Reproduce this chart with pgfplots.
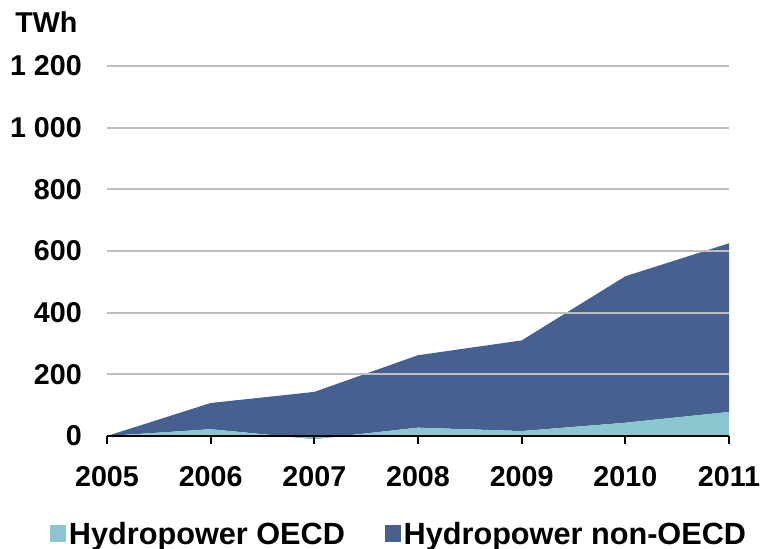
\documentclass[border=0pt]{standalone}
\usepackage{pgfplots}
\pgfplotsset{compat=1.18}
\usepackage{fontspec}
\setmainfont{Liberation Sans}
\definecolor{oecd}{HTML}{8CC6D0}
\definecolor{nonoecd}{HTML}{46618F}
\definecolor{gridgray}{HTML}{BFBFBF}
\begin{document}
\begin{tikzpicture}
\begin{axis}[
  at={(0,0)}, anchor=south west,
  scale only axis, width=466.5pt, height=277.5pt,
  xmin=2005, xmax=2011, ymin=0, ymax=1200,
  clip=false,
  set layers, axis on top,
  stack plots=y,
  axis x line*=bottom, axis y line*=left,
  y axis line style={draw=none},
  x axis line style={line width=2pt, black, -},
  xtick={2005,2006,2007,2008,2009,2010,2011},
  xticklabels={2005,2006,2007,2008,2009,2010,2011},
  ytick={0,200,400,600,800,1000,1200},
  yticklabels={0,200,400,600,800,1~000,1~200},
  tick align=outside,
  major tick length=6pt,
  xtick style={black, line width=1.5pt},
  ytick style={draw=none},
  ymajorgrids,
  grid style={gridgray, line width=1.5pt, /pgfplots/on layer=axis background},
  tick label style={font=\fontsize{21.5}{24}\selectfont\bfseries},
  yticklabel style={anchor=east, inner sep=0pt, xshift=-12.75pt},
  xticklabel style={anchor=north, inner sep=0pt, yshift=-17pt},
  legend columns=2,
  legend style={draw=none, fill=none, at={(-0.0916,-0.265)}, anchor=west,
    font=\fontsize{23}{26}\selectfont\bfseries, inner sep=0pt,
    /tikz/every even column/.append style={column sep=28pt}},
  legend image code/.code={\fill[#1, draw=none] (0pt,-6pt) rectangle (12pt,6.75pt);},
]
\addplot[fill=oecd, draw=none] coordinates {
  (2005,0) (2006,22) (2007,-10) (2008,27) (2009,16) (2010,43) (2011,78)
} \closedcycle;
\addplot[fill=nonoecd, draw=none] coordinates {
  (2005,0) (2006,85) (2007,153) (2008,235) (2009,294) (2010,475) (2011,547)
} \closedcycle;
\legend{Hydropower OECD, Hydropower non-OECD}
\end{axis}
\node[anchor=base west, inner sep=0pt, font=\fontsize{21.5}{24}\selectfont\bfseries] at (-69pt,302.25pt) {TWh};
\path (-80.25pt,-84pt) rectangle (492pt,327pt);
\end{tikzpicture}
\end{document}
